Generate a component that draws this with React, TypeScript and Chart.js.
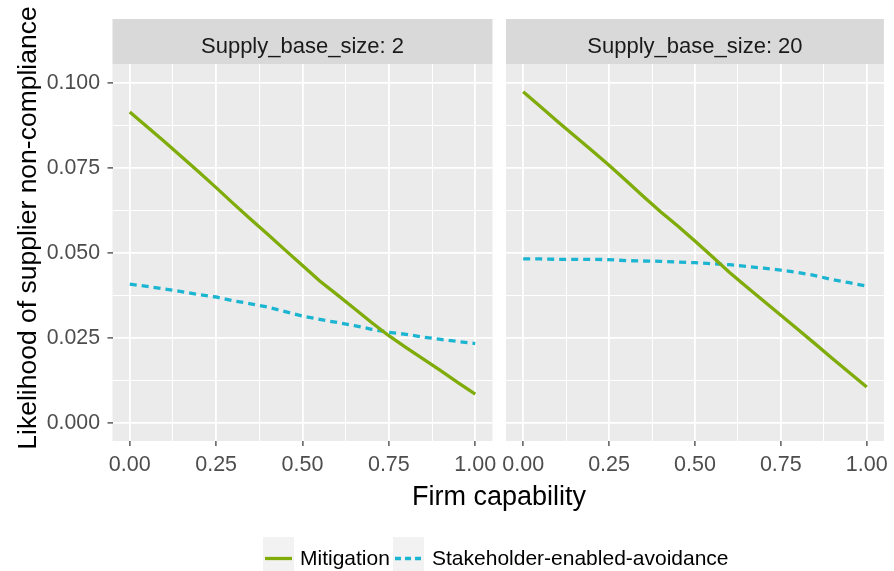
import React, { useEffect, useRef } from "react";
import { Chart, registerables } from "chart.js";

Chart.register(...registerables);

// Firm capability grid (x) shared by every series
const CAPABILITY = [
  0, 0.05, 0.1, 0.15, 0.2, 0.25, 0.3, 0.35, 0.4, 0.45, 0.5,
  0.55, 0.6, 0.65, 0.7, 0.75, 0.8, 0.85, 0.9, 0.95, 1,
];

// Supply_base_size: 2
const MITIGATION_SBS2 = [
  0.0916, 0.0872, 0.0829, 0.0784, 0.0739, 0.0693, 0.0646, 0.06, 0.0555, 0.0509, 0.0464,
  0.0418, 0.0378, 0.0337, 0.0296, 0.0257, 0.0222, 0.0188, 0.0154, 0.0119, 0.0085,
];
const AVOIDANCE_SBS2 = [
  0.0409, 0.0402, 0.0395, 0.0387, 0.0378, 0.0371, 0.036, 0.0351, 0.0341, 0.0328, 0.0315,
  0.0305, 0.0296, 0.0287, 0.0276, 0.0267, 0.0261, 0.0253, 0.0246, 0.024, 0.0234,
];

// Supply_base_size: 20
const MITIGATION_SBS20 = [
  0.0975, 0.0932, 0.0888, 0.0845, 0.0802, 0.0759, 0.0713, 0.0667, 0.0622, 0.058, 0.0536,
  0.049, 0.0444, 0.0401, 0.0359, 0.0317, 0.0275, 0.0233, 0.019, 0.0148, 0.0106,
];
const AVOIDANCE_SBS20 = [
  0.0483, 0.0483, 0.0482, 0.0482, 0.0482, 0.0481, 0.0478, 0.0477, 0.0476, 0.0474, 0.0472,
  0.0469, 0.0466, 0.0461, 0.0456, 0.045, 0.0443, 0.0434, 0.0422, 0.0413, 0.0403,
];

const X_MAJOR = [0, 0.25, 0.5, 0.75, 1];
const X_MINOR = [0.125, 0.375, 0.625, 0.875];
const Y_MAJOR = [0, 0.025, 0.05, 0.075, 0.1];
const Y_MINOR = [0.0125, 0.0375, 0.0625, 0.0875];

const FACETS = ["Supply_base_size: 2", "Supply_base_size: 20"];
const SERIES = ["Mitigation", "Stakeholder-enabled-avoidance"];
const SERIES_COLORS = ["#80AC0A", "#1CB5D1"];
const SERIES_DASH: number[][] = [[], [7, 5]];
const LINE_WIDTH = 3.3;
const X_TITLE = "Firm capability";
const Y_TITLE = "Likelihood of supplier non-compliance";

const W = 894;
const H = 571;
const FONT = '"Liberation Sans", Arial, Helvetica, sans-serif';

const isIn = (list: number[], v: number) => list.some((m) => Math.abs(m - v) < 1e-9);

type PanelSpec = {
  facet: string;
  mitigation: number[];
  avoidance: number[];
  left: number; // chart area left edge
  right: number; // chart area right edge
  showYAxis: boolean;
  decorate: boolean;
};

const stripPlugin = {
  id: "facetStrip",
  beforeDraw(chart: any, _args: any, opts: any) {
    const { ctx, chartArea } = chart;
    const { left, right, top, bottom } = chartArea;
    ctx.save();
    ctx.fillStyle = "#EBEBEB";
    ctx.fillRect(left, top, right - left, bottom - top);
    ctx.fillStyle = "#D9D9D9";
    ctx.fillRect(left, 19, right - left, top - 19);
    ctx.fillStyle = "#1A1A1A";
    ctx.font = `22px ${FONT}`;
    ctx.textAlign = "center";
    ctx.textBaseline = "alphabetic";
    ctx.fillText(opts.label, (left + right) / 2, 53);
    ctx.restore();
  },
};

const frameTextPlugin = {
  id: "frameText",
  afterDraw(chart: any, _args: any, opts: any) {
    if (!opts.enabled) return;
    const { ctx } = chart;
    ctx.save();
    // axis titles
    ctx.fillStyle = "#000000";
    ctx.font = `27px ${FONT}`;
    ctx.textAlign = "center";
    ctx.textBaseline = "alphabetic";
    ctx.fillText(X_TITLE, 499, 505);

    ctx.save();
    ctx.translate(36, 228);
    ctx.rotate(-Math.PI / 2);
    ctx.font = `26.5px ${FONT}`;
    ctx.fillText(Y_TITLE, 0, 0);
    ctx.restore();

    // legend
    const keys = [
      { x: 263, w: 31, tx: 300 },
      { x: 393, w: 31, tx: 432 },
    ];
    SERIES.forEach((name, i) => {
      const k = keys[i];
      ctx.fillStyle = "#F2F2F2";
      ctx.fillRect(k.x, 537, k.w, 34);
      ctx.strokeStyle = SERIES_COLORS[i];
      ctx.lineWidth = LINE_WIDTH;
      ctx.setLineDash(SERIES_DASH[i].length ? [6, 4] : []);
      ctx.beginPath();
      ctx.moveTo(k.x + 2, 558.5);
      ctx.lineTo(k.x + k.w - 2, 558.5);
      ctx.stroke();
      ctx.setLineDash([]);
      ctx.fillStyle = "#000000";
      ctx.font = `21px ${FONT}`;
      ctx.textAlign = "left";
      ctx.fillText(name, k.tx, 565);
    });
    ctx.restore();
  },
};

function buildConfig(spec: PanelSpec): any {
  const xTicks = [...X_MAJOR, ...X_MINOR].sort((a, b) => a - b);
  const yTicks = [...Y_MAJOR, ...Y_MINOR].sort((a, b) => a - b);
  const toPoints = (ys: number[]) => CAPABILITY.map((x, i) => ({ x, y: ys[i] }));

  return {
    type: "line",
    data: {
      datasets: [
        {
          label: SERIES[0],
          data: toPoints(spec.mitigation),
          borderColor: SERIES_COLORS[0],
          borderWidth: LINE_WIDTH,
          borderDash: SERIES_DASH[0],
          pointRadius: 0,
          tension: 0,
          fill: false,
        },
        {
          label: SERIES[1],
          data: toPoints(spec.avoidance),
          borderColor: SERIES_COLORS[1],
          borderWidth: LINE_WIDTH,
          borderDash: SERIES_DASH[1],
          pointRadius: 0,
          tension: 0,
          fill: false,
        },
      ],
    },
    options: {
      responsive: false,
      animation: false,
      events: [],
      layout: {
        padding: {
          left: spec.showYAxis ? 0 : spec.left,
          right: W - spec.right,
          top: 64,
          bottom: 0,
        },
      },
      plugins: {
        legend: { display: false },
        tooltip: { enabled: false },
        facetStrip: { label: spec.facet },
        frameText: { enabled: spec.decorate },
      },
      scales: {
        x: {
          type: "linear",
          position: "bottom",
          min: -0.05,
          max: 1.05,
          afterBuildTicks: (scale: any) => {
            scale.ticks = xTicks.map((v) => ({ value: v }));
          },
          afterFit: (scale: any) => {
            scale.height = H - 441;
          },
          border: { display: false },
          grid: {
            color: "#FFFFFF",
            lineWidth: (c: any) => (c.tick && isIn(X_MAJOR, c.tick.value) ? 1.8 : 1),
            drawTicks: true,
            tickLength: 5,
            tickWidth: 1.2,
            tickColor: (c: any) => (c.tick && isIn(X_MAJOR, c.tick.value) ? "#333333" : "rgba(0,0,0,0)"),
          },
          ticks: {
            autoSkip: false,
            maxRotation: 0,
            padding: 6,
            color: "#4D4D4D",
            font: { family: FONT, size: 21.5 },
            callback: (v: number) => (isIn(X_MAJOR, v) ? v.toFixed(2) : ""),
          },
        },
        y: {
          type: "linear",
          position: "left",
          min: -0.0053,
          max: 0.1057,
          afterBuildTicks: (scale: any) => {
            scale.ticks = yTicks.map((v) => ({ value: v }));
          },
          afterFit: (scale: any) => {
            scale.width = spec.showYAxis ? spec.left : 0;
          },
          border: { display: false },
          grid: {
            color: "#FFFFFF",
            lineWidth: (c: any) => (c.tick && isIn(Y_MAJOR, c.tick.value) ? 1.8 : 1),
            drawTicks: spec.showYAxis,
            tickLength: spec.showYAxis ? 5 : 0,
            tickWidth: 1.2,
            tickColor: (c: any) => (c.tick && isIn(Y_MAJOR, c.tick.value) ? "#333333" : "rgba(0,0,0,0)"),
          },
          ticks: {
            display: spec.showYAxis,
            autoSkip: false,
            padding: 7.5,
            color: "#4D4D4D",
            font: { family: FONT, size: 21.3 },
            callback: (v: number) => (isIn(Y_MAJOR, v) ? v.toFixed(3) : ""),
          },
        },
      },
    },
    plugins: [stripPlugin, frameTextPlugin],
  };
}

export default function App() {
  const leftRef = useRef<HTMLCanvasElement | null>(null);
  const rightRef = useRef<HTMLCanvasElement | null>(null);

  useEffect(() => {
    if (!leftRef.current || !rightRef.current) return;
    const left = new Chart(
      leftRef.current,
      buildConfig({
        facet: FACETS[0],
        mitigation: MITIGATION_SBS2,
        avoidance: AVOIDANCE_SBS2,
        left: 112.5,
        right: 492.5,
        showYAxis: true,
        decorate: true,
      })
    );
    const right = new Chart(
      rightRef.current,
      buildConfig({
        facet: FACETS[1],
        mitigation: MITIGATION_SBS20,
        avoidance: AVOIDANCE_SBS20,
        left: 506,
        right: 886,
        showYAxis: false,
        decorate: false,
      })
    );
    return () => {
      left.destroy();
      right.destroy();
    };
  }, []);

  const canvasStyle: React.CSSProperties = {
    position: "absolute",
    left: 0,
    top: 0,
    width: W,
    height: H,
  };

  return (
    <div
      style={{
        position: "absolute",
        left: 0,
        top: 0,
        width: W,
        height: H,
        background: "#FFFFFF",
        overflow: "hidden",
      }}
    >
      <canvas ref={leftRef} width={W} height={H} style={canvasStyle} />
      <canvas ref={rightRef} width={W} height={H} style={canvasStyle} />
    </div>
  );
}
